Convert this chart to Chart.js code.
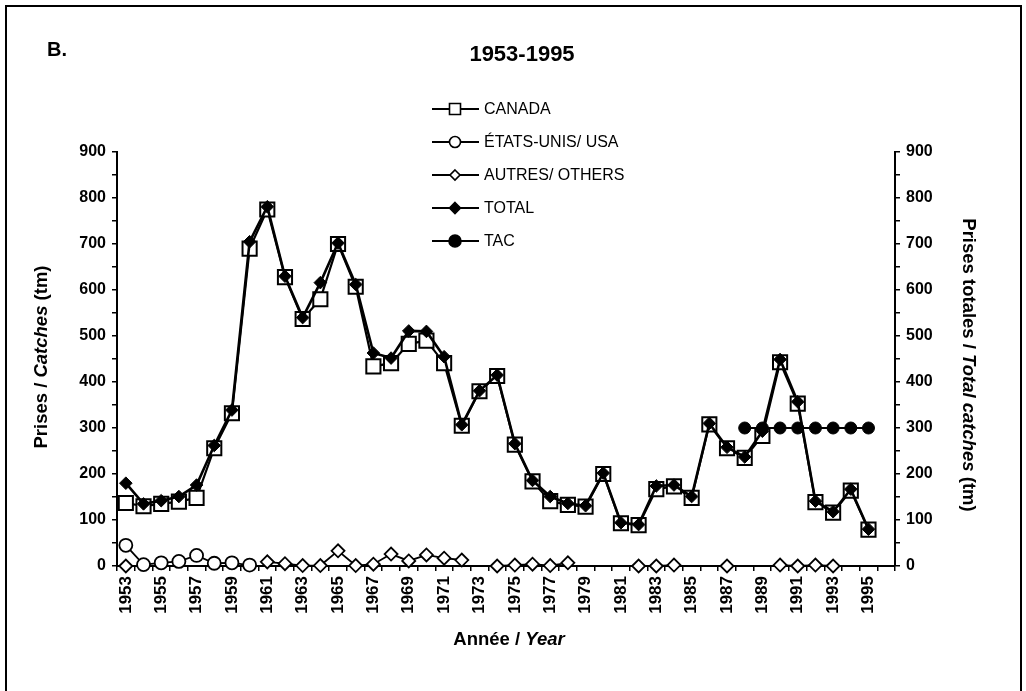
<!DOCTYPE html>
<html><head><meta charset="utf-8">
<script src="https://cdn.jsdelivr.net/npm/chart.js@4/dist/chart.umd.min.js"></script>
<style>html,body{margin:0;padding:0;background:#fff;}canvas{display:block;}</style>
</head><body>
<canvas id="c" width="1026" height="691"></canvas>
<script>
const years = [1953,1954,1955,1956,1957,1958,1959,1960,1961,1962,1963,1964,1965,1966,1967,1968,1969,1970,1971,1972,1973,1974,1975,1976,1977,1978,1979,1980,1981,1982,1983,1984,1985,1986,1987,1988,1989,1990,1991,1992,1993,1994,1995,1996];
const canada = [137,130,135,140,148,256,332,690,775,628,537,580,700,607,434,441,483,490,441,305,380,413,264,184,141,133,129,200,93,89,167,173,148,308,256,235,283,443,353,139,116,164,79,null];
const usa = [45,3,7,10,23,6,7,2,null,null,null,null,null,null,null,null,null,null,null,null,null,null,null,null,null,null,null,null,null,null,null,null,null,null,null,null,null,null,null,null,null,null,null,null];
const others = [0,null,null,null,null,null,null,null,9,5,1,1,33,1,4,26,11,24,17,13,null,0,2,4,1,7,null,null,null,0,0,2,null,null,0,null,null,2,0,2,0,null,null,null];
const total = [180,135,142,151,176,262,339,705,781,630,540,616,702,612,463,452,511,510,455,307,381,415,266,186,151,136,131,202,94,90,174,176,151,310,258,237,293,449,357,141,118,167,80,null];
const tac = [null,null,null,null,null,null,null,null,null,null,null,null,null,null,null,null,null,null,null,null,null,null,null,null,null,null,null,null,null,null,null,null,null,null,null,300,300,300,300,300,300,300,300,null];
const yTicks = [0,100,200,300,400,500,600,700,800,900];
const seriesNames = ['CANADA','ÉTATS-UNIS/ USA','AUTRES/ OTHERS','TOTAL','TAC'];

const FONT = '"Liberation Sans", Arial, sans-serif';
const black = '#000';

const datasets = [
  {label: seriesNames[0], data: canada, borderColor: black, backgroundColor: '#fff', borderWidth: 2.2,
   pointStyle: 'rect', pointRadius: 10, pointBorderWidth: 2, pointBackgroundColor: '#fff', pointBorderColor: black, order: 2},
  {label: seriesNames[1], data: usa, borderColor: black, backgroundColor: '#fff', borderWidth: 1.8,
   pointStyle: 'circle', pointRadius: 6.5, pointBorderWidth: 1.8, pointBackgroundColor: '#fff', pointBorderColor: black, order: 3},
  {label: seriesNames[2], data: others, borderColor: black, backgroundColor: '#fff', borderWidth: 1.8,
   pointStyle: 'rectRot', pointRadius: 6.5, pointBorderWidth: 1.8, pointBackgroundColor: '#fff', pointBorderColor: black, order: 4},
  {label: seriesNames[3], data: total, borderColor: black, backgroundColor: black, borderWidth: 2.6,
   pointStyle: 'rectRot', pointRadius: 6.3, pointBorderWidth: 1, pointBackgroundColor: black, pointBorderColor: black, order: 1},
  {label: seriesNames[4], data: tac, borderColor: black, backgroundColor: black, borderWidth: 2,
   pointStyle: 'circle', pointRadius: 6, pointBorderWidth: 1, pointBackgroundColor: black, pointBorderColor: black, order: 0}
].map(d => Object.assign(d, {clip: false, spanGaps: false, tension: 0, yAxisID: 'y'}));

const AREA = {left: 117, right: 895, top: 152, bottom: 566};

function drawMixed(ctx, parts, x, y, size) {
  let w = 0;
  parts.forEach(p => { ctx.font = (p.i ? 'italic ' : '') + 'bold ' + size + 'px ' + FONT; p.w = ctx.measureText(p.t).width; w += p.w; });
  let cx = x - w / 2;
  ctx.textAlign = 'left'; ctx.textBaseline = 'middle';
  parts.forEach(p => { ctx.font = (p.i ? 'italic ' : '') + 'bold ' + size + 'px ' + FONT; ctx.fillText(p.t, cx, y); cx += p.w; });
}

function legendMarker(ctx, style, x, y, r, fill) {
  ctx.beginPath();
  if (style === 'rect') { ctx.rect(x - r, y - r, 2 * r, 2 * r); }
  else if (style === 'circle') { ctx.arc(x, y, r, 0, Math.PI * 2); }
  else { ctx.moveTo(x, y - r); ctx.lineTo(x + r, y); ctx.lineTo(x, y + r); ctx.lineTo(x - r, y); ctx.closePath(); }
  ctx.fillStyle = fill; ctx.fill(); ctx.stroke();
}

const decor = {
  id: 'decor',
  afterDraw(chart) {
    const ctx = chart.ctx; const ca = chart.chartArea;
    ctx.save();
    ctx.fillStyle = black; ctx.strokeStyle = black;
    ctx.lineWidth = 2;
    ctx.beginPath(); ctx.moveTo(6, 700); ctx.lineTo(6, 6); ctx.lineTo(1021, 6); ctx.lineTo(1021, 700); ctx.stroke();
    ctx.font = 'bold 20px ' + FONT; ctx.textAlign = 'left'; ctx.textBaseline = 'middle';
    ctx.fillText('B.', 47, 50);
    ctx.font = 'bold 22px ' + FONT; ctx.textAlign = 'center';
    ctx.fillText('1953-1995', 522, 55);
    const cy = (ca.top + ca.bottom) / 2;
    ctx.save(); ctx.translate(42, cy - 2); ctx.rotate(-Math.PI / 2);
    drawMixed(ctx, [{t: 'Prises / '}, {t: 'Catches', i: true}, {t: ' (tm)'}], 0, 0, 18.5);
    ctx.restore();
    ctx.save(); ctx.translate(968, cy + 6); ctx.rotate(Math.PI / 2);
    drawMixed(ctx, [{t: 'Prises totales / '}, {t: 'Total catches', i: true}, {t: ' (tm)'}], 0, 0, 18.5);
    ctx.restore();
    drawMixed(ctx, [{t: 'Année / '}, {t: 'Year', i: true}], (ca.left + ca.right) / 2 + 3, 640, 18.5);
    const ly = [109, 142, 175, 208, 241];
    const styles = [['rect', 5.5, '#fff'], ['circle', 5.5, '#fff'], ['rectRot', 5, '#fff'], ['rectRot', 5.5, black], ['circle', 6, black]];
    ly.forEach((y, i) => {
      ctx.lineWidth = 2;
      ctx.beginPath(); ctx.moveTo(432, y); ctx.lineTo(479, y); ctx.stroke();
      ctx.lineWidth = 1.6;
      legendMarker(ctx, styles[i][0], 455, y, styles[i][1], styles[i][2]);
      ctx.fillStyle = black;
      ctx.font = '16px ' + FONT; ctx.textAlign = 'left'; ctx.textBaseline = 'middle';
      ctx.fillText(seriesNames[i], 484, y + 1);
    });
    ctx.restore();
  }
};

const tickFont = {family: FONT, size: 16, weight: 'bold'};
const yCommon = {
  min: 0, max: 900,
  grid: {drawOnChartArea: false, drawTicks: true, tickLength: 5, color: black, lineWidth: 1.5},
  border: {display: true, color: black, width: 2},
  ticks: {stepSize: 50, color: black, font: tickFont, padding: 6,
          callback: v => (yTicks.includes(v) ? String(v) : '')}
};

new Chart(document.getElementById('c'), {
  type: 'line',
  data: {labels: years.map(String), datasets},
  options: {
    responsive: false, animation: false, devicePixelRatio: 1,
    layout: {padding: {top: AREA.top, left: 0, right: 0, bottom: 0}},
    plugins: {legend: {display: false}, title: {display: false}, tooltip: {enabled: false}},
    scales: {
      x: {
        type: 'category', offset: true,
        grid: {offset: true, drawOnChartArea: false, drawTicks: true, tickLength: 5, color: black, lineWidth: 1.5},
        border: {display: true, color: black, width: 2},
        ticks: {autoSkip: false, maxRotation: 90, minRotation: 90, color: black, font: {family: FONT, size: 17, weight: 'bold'}, padding: 5,
                callback: function(v, i) { return i % 2 === 0 ? this.getLabelForValue(v) : ''; }},
        afterFit: s => { s.height = 691 - AREA.bottom; }
      },
      y: Object.assign({position: 'left', afterFit: s => { s.width = AREA.left; }}, JSON.parse(JSON.stringify(yCommon)),
                       {ticks: Object.assign({}, yCommon.ticks)}),
      y2: Object.assign({position: 'right', afterFit: s => { s.width = 1026 - AREA.right; }}, JSON.parse(JSON.stringify(yCommon)),
                       {ticks: Object.assign({}, yCommon.ticks)})
    }
  },
  plugins: [decor]
});
</script>
</body></html>
